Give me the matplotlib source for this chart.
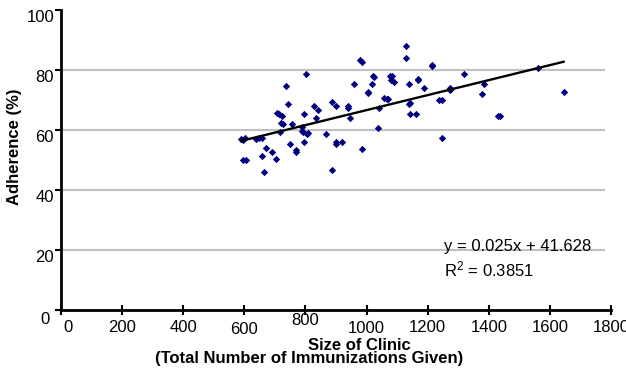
import matplotlib
matplotlib.use("Agg")
import matplotlib.pyplot as plt
from matplotlib.transforms import ScaledTranslation

plt.rcParams['font.family'] = ['Liberation Sans', 'DejaVu Sans']
plt.rcParams['mathtext.default'] = 'regular'

# clinic size (total immunizations given) vs adherence (%)
clinic_size = [589, 595, 601, 597, 605, 638, 649, 657, 671, 657, 689, 704, 664,
               706, 713, 722, 719, 725, 717, 736, 742, 749, 756, 769, 769,
               788, 788, 793, 795, 795, 802, 804, 808, 827, 840, 833, 866,
               886, 899, 899, 899, 919, 886, 938, 940, 945, 958, 980, 985, 984,
               1004, 1004, 1017, 1022, 1024, 1036, 1041, 1058, 1066, 1071,
               1077, 1083, 1080, 1089, 1128, 1128, 1140, 1138, 1142, 1141,
               1161, 1167, 1167, 1187, 1213, 1213, 1238, 1246, 1247, 1272,
               1272, 1318, 1377, 1383, 1429, 1437, 1560, 1645]
adherence = [56.9, 56.7, 57.2, 50.0, 49.9, 56.9, 57.2, 57.4, 54.1, 51.4, 52.8, 50.3, 46.1,
             65.6, 65.3, 64.7, 62.2, 62.0, 59.2, 74.8, 68.8, 55.3, 62.0, 53.3, 52.7,
             61.1, 59.8, 59.4, 65.3, 56.1, 78.8, 58.7, 58.9, 68.0, 66.7, 64.0, 58.7,
             69.3, 68.1, 56.1, 55.3, 56.1, 46.8, 68.0, 67.2, 64.0, 75.4, 83.3, 82.7, 53.6,
             72.8, 72.2, 75.4, 78.1, 77.8, 60.8, 67.4, 70.7, 70.4, 70.2,
             77.9, 78.1, 76.7, 75.9, 88.1, 84.1, 75.4, 68.8, 69.0, 65.4,
             65.4, 77.0, 76.7, 74.1, 81.8, 81.4, 70.1, 70.1, 57.4, 74.0,
             73.2, 78.8, 72.1, 75.4, 64.8, 64.8, 80.8, 72.8]

slope = 0.025
intercept = 41.628
r_squared = 0.3851

x_ticks = list(range(0, 1801, 200))
y_ticks = list(range(0, 101, 20))

fig = plt.figure(figsize=(6.26, 3.68), dpi=100)
ax = fig.add_axes([61/626, 1 - 310/368, 550/626, 300/368])

# gridlines (no line at 0 or 100)
for yv in y_ticks[1:-1]:
    ax.axhline(yv, xmin=0, xmax=0.988, color='#c0c0c0', lw=1.5, zorder=1)

ax.scatter(clinic_size, adherence, marker='D', s=14, color='#000080',
           linewidths=0, zorder=3)

# linear trendline
x_line = [min(clinic_size), max(clinic_size)]
ax.plot(x_line, [slope * x + intercept for x in x_line], color='black', lw=1.7, zorder=4)

ax.set_xlim(0, 1800)
ax.set_ylim(0, 100)
ax.set_xticks(x_ticks)
ax.set_yticks(y_ticks)

for side in ['top', 'right']:
    ax.spines[side].set_visible(False)
for side in ['left', 'bottom']:
    ax.spines[side].set_linewidth(2)

ax.tick_params(axis='x', direction='inout', length=7, width=1.5, labelsize=12, pad=4)
ax.tick_params(axis='y', direction='out', length=4, width=1.5, labelsize=12, pad=1)

# quirky label offsets from the original
dpi_t = fig.dpi_scale_trans
x_shift = {0: (0.07, 0), 600: (0, -0.02), 800: (0, 0.07), 1000: (0, -0.01)}
for val, lbl in zip(x_ticks, ax.get_xticklabels()):
    dx, dy = x_shift.get(val, (0, 0))
    lbl.set_transform(lbl.get_transform() + ScaledTranslation(dx, dy, dpi_t))
for val, lbl in zip(y_ticks, ax.get_yticklabels()):
    dx, dy = (-0.04, -0.08) if val == 0 else (0, -0.06)
    lbl.set_transform(lbl.get_transform() + ScaledTranslation(dx, dy, dpi_t))

fig.text(15/626, 1 - 147/368, 'Adherence (%)', rotation=90, fontsize=12,
         fontweight='bold', ha='center', va='center')
fig.text(359/626, 1 - 346/368, 'Size of Clinic', fontsize=12,
         fontweight='bold', ha='center', va='center')
fig.text(309/626, 1 - 358/368, '(Total Number of Immunizations Given)', fontsize=12,
         fontweight='bold', ha='center', va='center')

fig.text(444/626, 1 - 246/368, f'y = {slope}x + {intercept}', fontsize=12,
         ha='left', va='center')
fig.text(444/626, 1 - 269/368, f'R$^2$ = {r_squared}', fontsize=12,
         ha='left', va='center')

fig.savefig('out.png', dpi=100)
